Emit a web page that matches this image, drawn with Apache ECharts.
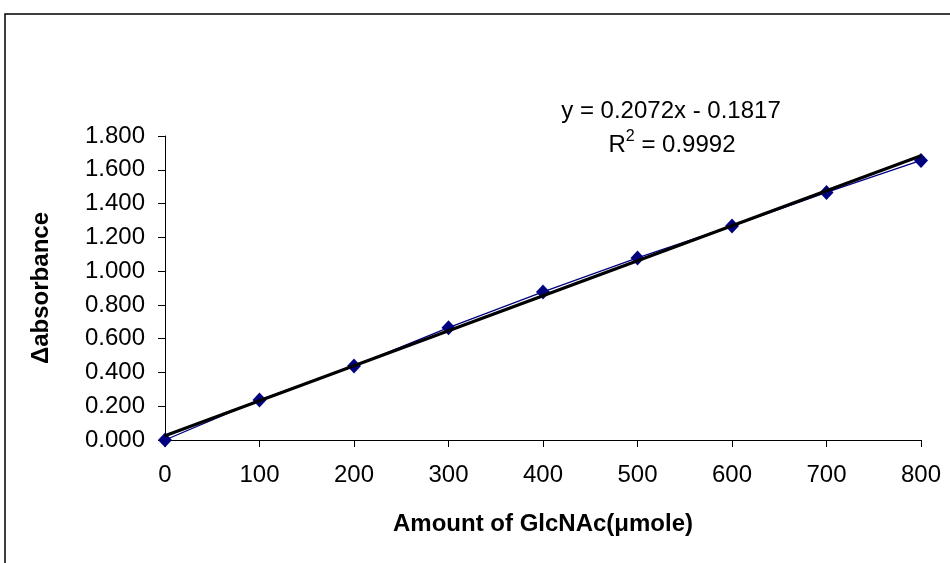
<!DOCTYPE html>
<html>
<head>
<meta charset="utf-8">
<script src="https://cdn.jsdelivr.net/npm/echarts@6/dist/echarts.min.js"></script>
<style>
  html, body { margin: 0; padding: 0; background: #fff; }
  #chart { width: 950px; height: 563px; }
</style>
</head>
<body>
<div id="chart"></div>
<script>
// Standard curve: amount of GlcNAc vs change in absorbance
const amounts = [0, 100, 200, 300, 400, 500, 600, 700, 800];
const absorbance = [0.000, 0.237, 0.438, 0.665, 0.877, 1.078, 1.267, 1.466, 1.655];

// Linear fit as reported (x is the point number 1..n)
const slope = 0.2072;
const intercept = -0.1817;
const rSquared = 0.9992;

const xTitle = 'Amount of GlcNAc(μmole)';
const yTitle = 'Δabsorbance';

const fitLine = [amounts[0], amounts[amounts.length - 1]].map(a => {
  const idx = amounts.indexOf(a) + 1;
  return [a, slope * idx + intercept];
});

const FONT = '"Liberation Sans", Arial, sans-serif';
const FS = 24;

const chart = echarts.init(document.getElementById('chart'), null, { renderer: 'canvas' });

chart.setOption({
  backgroundColor: '#ffffff',
  animation: false,
  grid: { left: 165, right: 29, top: 136, bottom: 123, containLabel: false },
  xAxis: {
    type: 'value',
    min: 0, max: 800, interval: 100,
    name: xTitle,
    nameLocation: 'middle',
    nameGap: 72,
    nameTextStyle: { fontFamily: FONT, fontSize: FS, fontWeight: 'bold', color: '#000' },
    axisLine: { show: true, onZero: false, lineStyle: { color: '#000', width: 1 } },
    axisTick: { show: true, inside: false, length: 7, lineStyle: { color: '#000' } },
    axisLabel: { fontFamily: FONT, fontSize: FS, color: '#000', margin: 23 },
    splitLine: { show: false }
  },
  yAxis: {
    type: 'value',
    min: 0, max: 1.8, interval: 0.2,
    name: yTitle,
    nameLocation: 'middle',
    nameGap: 112,
    nameRotate: 90,
    nameTextStyle: { fontFamily: FONT, fontSize: FS, fontWeight: 'bold', color: '#000' },
    axisLine: { show: true, onZero: false, lineStyle: { color: '#000', width: 1 } },
    axisTick: { show: true, inside: false, length: 7, lineStyle: { color: '#000' } },
    axisLabel: { fontFamily: FONT, fontSize: FS, color: '#000', margin: 20,
      formatter: v => v.toFixed(3) },
    splitLine: { show: false }
  },
  series: [
    {
      type: 'line',
      data: amounts.map((a, i) => [a, absorbance[i]]),
      symbol: 'diamond',
      symbolSize: [14, 15],
      showAllSymbol: true,
      itemStyle: { color: '#000080' },
      lineStyle: { color: '#000080', width: 1.3 },
      z: 2
    },
    {
      type: 'line',
      data: fitLine,
      symbol: 'none',
      lineStyle: { color: '#000', width: 3.2 },
      z: 3
    }
  ],
  graphic: [
    {
      type: 'rect',
      shape: { x: 5, y: 14, width: 1000, height: 700 },
      style: { fill: 'none', stroke: '#000', lineWidth: 1.5 },
      silent: true,
      z: 10
    },
    {
      type: 'text',
      x: 671, y: 111,
      style: {
        text: 'y = ' + slope.toFixed(4) + 'x - ' + Math.abs(intercept).toFixed(4),
        font: FS + 'px ' + FONT, fill: '#000',
        align: 'center', verticalAlign: 'middle'
      },
      z: 10
    },
    {
      type: 'text',
      x: 672, y: 143,
      style: {
        text: '{b|R}{s|2}{b| = ' + rSquared.toFixed(4) + '}',
        align: 'center', verticalAlign: 'middle',
        rich: {
          b: { fontFamily: FONT, fontSize: FS, color: '#000', verticalAlign: 'bottom', lineHeight: 28 },
          s: { fontFamily: FONT, fontSize: 16, color: '#000', verticalAlign: 'top', lineHeight: 28, padding: [0, 0, 12, 0] }
        }
      },
      z: 10
    }
  ]
});
</script>
</body>
</html>
